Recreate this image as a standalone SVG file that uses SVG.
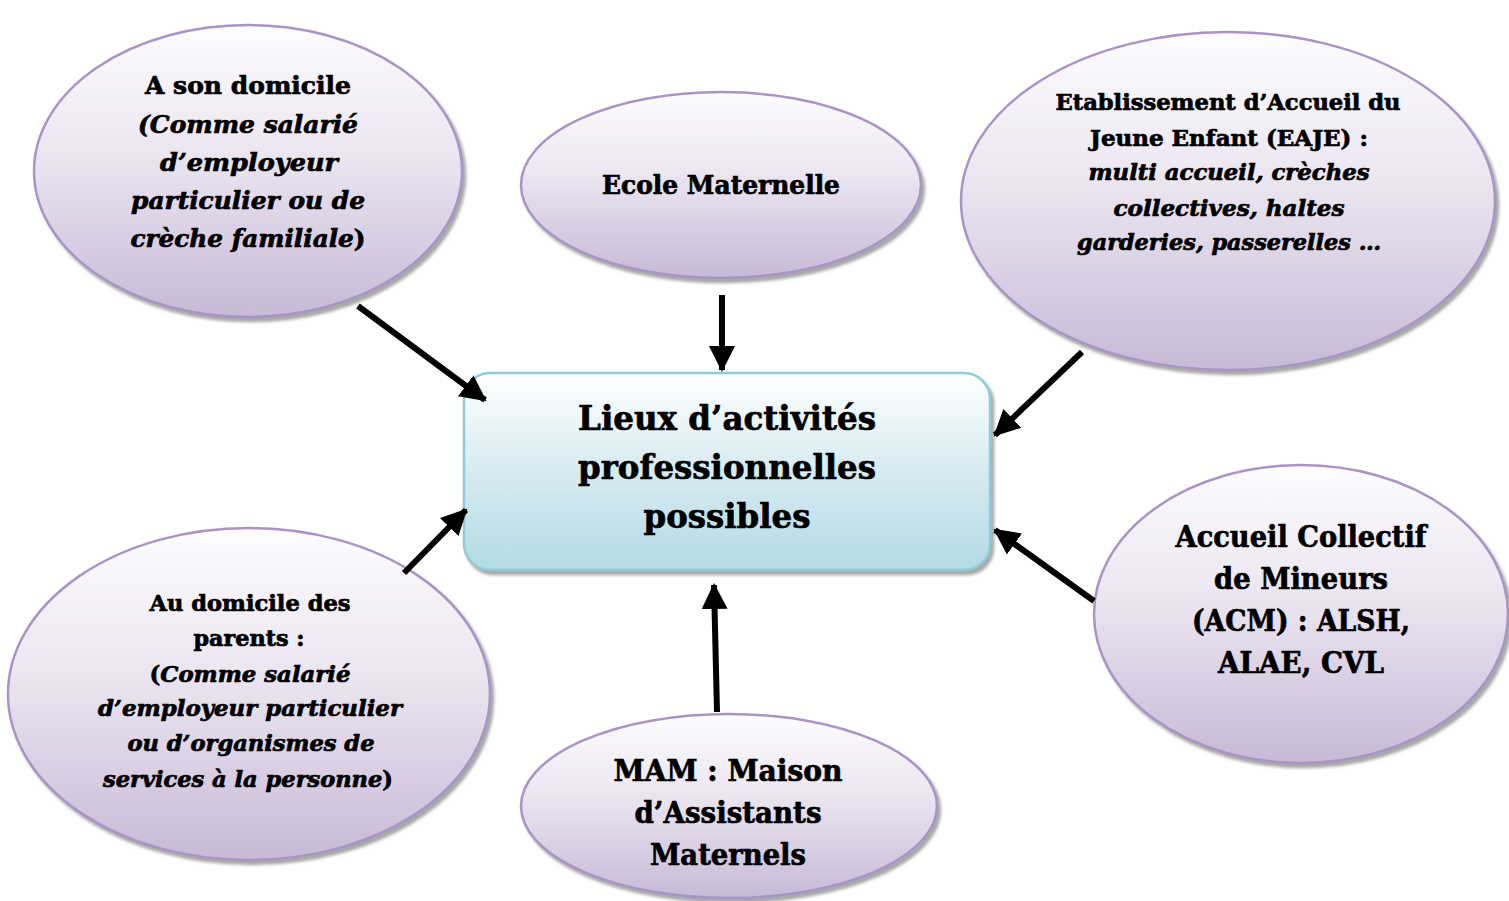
<svg xmlns="http://www.w3.org/2000/svg" width="1509" height="901" viewBox="0 0 1509 901">
<defs>
<linearGradient id="gE" x1="0" y1="0" x2="0" y2="1">
<stop offset="0" stop-color="#fdfcfe"/>
<stop offset="0.45" stop-color="#ebe5f0"/>
<stop offset="1" stop-color="#c8b9d6"/>
</linearGradient>
<linearGradient id="gR" x1="0" y1="0" x2="0" y2="1">
<stop offset="0" stop-color="#ffffff"/>
<stop offset="0.55" stop-color="#d3e9ef"/>
<stop offset="1" stop-color="#b3dbe5"/>
</linearGradient>
<filter id="sh" x="-10%" y="-10%" width="125%" height="125%">
<feDropShadow dx="3" dy="4" stdDeviation="1.5" flood-color="#6e6e6e" flood-opacity="0.6"/>
</filter>
<marker id="ah" viewBox="0 0 26 26" refX="24" refY="13" markerWidth="26" markerHeight="26" markerUnits="userSpaceOnUse" orient="auto">
<path d="M0,0 L26,13 L0,26 Z" fill="#000"/>
</marker>
<style>
.ell{fill:url(#gE);stroke:#a994c6;stroke-width:2.5;filter:url(#sh)}
.rec{fill:url(#gR);stroke:#8fcbd9;stroke-width:2.5;filter:url(#sh)}
text{font-family:"DejaVu Serif","Liberation Serif",serif;font-weight:bold;fill:#000;stroke:#000;stroke-width:0.7;text-anchor:middle}
.i{font-style:italic}
.n{font-style:normal}
.con line{stroke:#000;stroke-width:6;marker-end:url(#ah)}
</style>
</defs>
<rect width="1509" height="901" fill="#fff"/>

<g id="n-domicile">
<ellipse class="ell" cx="248" cy="171" rx="214" ry="146"/>
<text x="248" y="94" font-size="25" textLength="206" lengthAdjust="spacingAndGlyphs">A son domicile</text>
<text class="i" x="248" y="133" font-size="25" textLength="220" lengthAdjust="spacingAndGlyphs">(Comme salarié</text>
<text class="i" x="249" y="171" font-size="25" textLength="178" lengthAdjust="spacingAndGlyphs">d’employeur</text>
<text class="i" x="248" y="209" font-size="25" textLength="234" lengthAdjust="spacingAndGlyphs">particulier ou de</text>
<text x="248" y="247" font-size="25" textLength="235" lengthAdjust="spacingAndGlyphs"><tspan class="i">crèche familiale</tspan><tspan class="n">)</tspan></text>
</g>

<g id="n-ecole">
<ellipse class="ell" cx="721" cy="185" rx="200" ry="93"/>
<text x="721" y="194" font-size="26" textLength="238" lengthAdjust="spacingAndGlyphs">Ecole Maternelle</text>
</g>

<g id="n-eaje">
<ellipse class="ell" cx="1228" cy="201" rx="267" ry="169"/>
<text x="1228" y="110" font-size="22" textLength="345" lengthAdjust="spacingAndGlyphs">Etablissement d’Accueil du</text>
<text x="1229" y="146" font-size="22" textLength="278" lengthAdjust="spacingAndGlyphs">Jeune Enfant (EAJE) :</text>
<text class="i" x="1229" y="180" font-size="22" textLength="281" lengthAdjust="spacingAndGlyphs">multi accueil, crèches</text>
<text class="i" x="1229" y="216" font-size="22" textLength="231" lengthAdjust="spacingAndGlyphs">collectives, haltes</text>
<text class="i" x="1229" y="250" font-size="22" textLength="304" lengthAdjust="spacingAndGlyphs">garderies, passerelles …</text>
</g>

<g id="n-acm">
<ellipse class="ell" cx="1301" cy="614" rx="207" ry="149"/>
<text x="1301" y="547" font-size="29" textLength="251" lengthAdjust="spacingAndGlyphs">Accueil Collectif</text>
<text x="1301" y="589" font-size="29" textLength="174" lengthAdjust="spacingAndGlyphs">de Mineurs</text>
<text x="1301" y="631" font-size="29" textLength="218" lengthAdjust="spacingAndGlyphs">(ACM) : ALSH,</text>
<text x="1301" y="673" font-size="29" textLength="166" lengthAdjust="spacingAndGlyphs">ALAE, CVL</text>
</g>

<g id="n-mam">
<ellipse class="ell" cx="729" cy="806" rx="208" ry="92"/>
<text x="728" y="781" font-size="29" textLength="229" lengthAdjust="spacingAndGlyphs">MAM : Maison</text>
<text x="728" y="823" font-size="29" textLength="187" lengthAdjust="spacingAndGlyphs">d’Assistants</text>
<text x="728" y="865" font-size="29" textLength="156" lengthAdjust="spacingAndGlyphs">Maternels</text>
</g>

<g id="n-parents">
<ellipse class="ell" cx="249" cy="694" rx="241" ry="166"/>
<text x="250" y="611" font-size="22" textLength="201" lengthAdjust="spacingAndGlyphs">Au domicile des</text>
<text x="249" y="646" font-size="22" textLength="111" lengthAdjust="spacingAndGlyphs">parents :</text>
<text x="250" y="682" font-size="22" textLength="201" lengthAdjust="spacingAndGlyphs"><tspan class="n">(</tspan><tspan class="i">Comme salarié</tspan></text>
<text class="i" x="250" y="716" font-size="22" textLength="304" lengthAdjust="spacingAndGlyphs">d’employeur particulier</text>
<text class="i" x="251" y="751" font-size="22" textLength="247" lengthAdjust="spacingAndGlyphs">ou d’organismes de</text>
<text x="248" y="787" font-size="22" textLength="290" lengthAdjust="spacingAndGlyphs"><tspan class="i">services à la personne</tspan><tspan class="n">)</tspan></text>
</g>

<g id="n-center">
<rect class="rec" x="464" y="373" width="526" height="197" rx="26" ry="26"/>
<text x="727" y="430" font-size="34" textLength="298" lengthAdjust="spacingAndGlyphs">Lieux d’activités</text>
<text x="727" y="479" font-size="34" textLength="298" lengthAdjust="spacingAndGlyphs">professionnelles</text>
<text x="727" y="528" font-size="34" textLength="167" lengthAdjust="spacingAndGlyphs">possibles</text>
</g>

<g id="connectors" class="con">
<line x1="358" y1="306" x2="485" y2="400"/>
<line x1="722" y1="295" x2="722" y2="370"/>
<line x1="1082" y1="352" x2="995" y2="435"/>
<line x1="1094" y1="601" x2="995" y2="530"/>
<line x1="717" y1="712" x2="714" y2="585"/>
<line x1="404" y1="573" x2="466" y2="510"/>
</g>
</svg>
